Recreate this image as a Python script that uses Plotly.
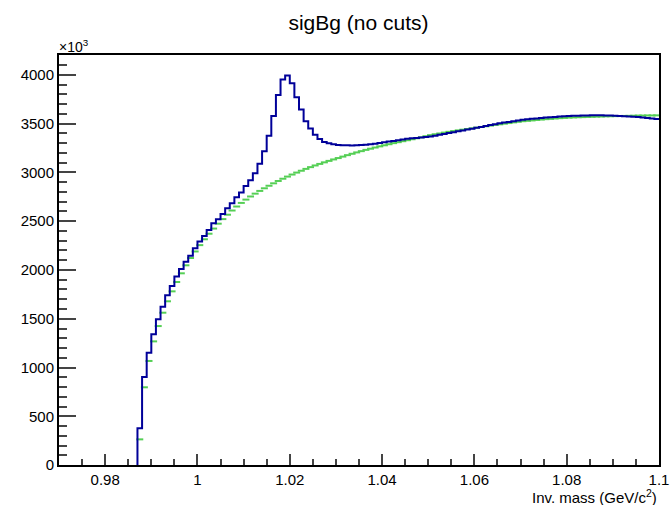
import plotly.graph_objects as go

# Histogram binning (bin low edges, width 0.001 GeV/c^2)
x_min = 0.970
bin_width = 0.001
n_bins = 130

# Total (signal + background), in units of 10^3
sig_bg = [0]*17 + [
    378, 903, 1152, 1340, 1494, 1624, 1740, 1836, 1932, 2010,
    2085, 2147, 2222, 2291, 2349, 2410, 2479, 2520, 2574, 2633,
    2684, 2745, 2795, 2862, 2920, 2992, 3090, 3217, 3376, 3579,
    3795, 3953, 3995, 3915, 3772, 3645, 3526, 3450, 3388, 3344,
    3313, 3299, 3289, 3283, 3280, 3279, 3278, 3279, 3281, 3285,
    3290, 3296, 3303, 3310, 3317, 3324, 3331, 3338, 3345, 3350,
    3355, 3360, 3364, 3368, 3377, 3386, 3395, 3404, 3413, 3422,
    3431, 3440, 3449, 3458, 3467, 3476, 3486, 3495, 3504, 3512,
    3519, 3526, 3533, 3540, 3545, 3550, 3554, 3559, 3563, 3567,
    3570, 3574, 3577, 3580, 3581, 3583, 3584, 3585, 3586, 3586,
    3586, 3585, 3584, 3582, 3580, 3577, 3575, 3572, 3568, 3564,
    3559, 3554, 3548,
]

# Background estimate, in units of 10^3 (None = empty bin)
bg = [None]*17 + [
    263, 797, 1067, 1268, 1425, 1562, 1679, 1781, 1877, 1966,
    2048, 2123, 2190, 2255, 2315, 2372, 2425, 2475, 2522, 2567,
    2610, 2651, 2688, 2722, 2754, 2783, 2811, 2838, 2864, 2889,
    2913, 2936, 2958, 2979, 2999, 3018, 3037, 3055, 3072, 3088,
    3104, 3119, 3134, 3148, 3163, 3178, 3192, 3206, 3219, 3232,
    3244, 3256, 3268, 3279, 3290, 3301, 3311, 3321, 3331, 3341,
    3351, 3361, 3372, 3383, 3392, 3400, 3409, 3417, 3425, 3432,
    3439, 3446, 3453, 3460, 3467, 3474, 3481, 3488, 3494, 3501,
    3507, 3514, 3520, 3526, 3530, 3534, 3539, 3543, 3547, 3550,
    3554, 3557, 3560, 3563, 3565, 3567, 3568, 3570, 3571, 3573,
    3574, 3576, 3577, 3578, 3579, 3580, 3581, 3582, 3584, 3584,
    3585, 3585, 3586,
]

x_ticks = [0.98, 1.0, 1.02, 1.04, 1.06, 1.08, 1.1]
x_tick_labels = ["0.98", "1", "1.02", "1.04", "1.06", "1.08", "1.1"]
y_ticks = [0, 500, 1000, 1500, 2000, 2500, 3000, 3500, 4000]

edges = [round(x_min + i * bin_width, 4) for i in range(n_bins + 1)]
centers = [round(x_min + (i + 0.5) * bin_width, 5) for i in range(n_bins)]

# Step outline: skip the leading empty bins (they lie on the frame),
# start at the first filled bin's low edge from zero.
first = next(i for i, v in enumerate(sig_bg) if v > 0)
step_x = [edges[first]] + edges[first:]
step_y = [0] + sig_bg[first:] + [sig_bg[-1]]

FONT = "Liberation Sans, Arial, Helvetica, sans-serif"

fig = go.Figure()

fig.add_trace(go.Scatter(
    x=centers, y=bg, mode="markers",
    marker=dict(symbol="line-ew", size=5, color="#55cf55",
                line=dict(color="#55cf55", width=2)),
    hoverinfo="x+y", showlegend=False,
))

fig.add_trace(go.Scatter(
    x=step_x, y=step_y, mode="lines",
    line=dict(shape="hv", color="#000099", width=2),
    showlegend=False,
))

fig.update_layout(
    width=670, height=505,
    margin=dict(l=59, r=11, t=55, b=40, autoexpand=False),
    paper_bgcolor="white", plot_bgcolor="white",
    font=dict(family=FONT, size=15, color="black"),
    title=dict(text="sigBg (no cuts)", x=0.535, xanchor="center",
               y=0.955, yanchor="middle", font=dict(size=21)),
    xaxis=dict(
        range=[0.97, 1.1], tickmode="array", tickvals=x_ticks,
        ticktext=x_tick_labels, ticks="inside", ticklen=11, tickwidth=1.5,
        minor=dict(ticks="inside", ticklen=6, tickwidth=1.5, dtick=0.005,
                   tick0=0.97, showgrid=False),
        showline=True, linewidth=2, linecolor="black", mirror=True,
        showgrid=False, zeroline=False, automargin=False,
        layer="above traces",
    ),
    yaxis=dict(
        range=[0, 4205], tickmode="array", tickvals=y_ticks,
        ticks="inside", ticklen=17, tickwidth=1.5,
        minor=dict(ticks="inside", ticklen=8, tickwidth=1.5, dtick=100,
                   tick0=0, showgrid=False),
        showline=True, linewidth=2, linecolor="black", mirror=True,
        showgrid=False, zeroline=False, automargin=False,
        layer="above traces",
    ),
    annotations=[
        dict(text="Inv. mass (GeV/c<sup>2</sup>)", xref="paper", yref="paper",
             x=1.0, y=-0.076, xanchor="right", yanchor="middle",
             showarrow=False, font=dict(size=15)),
        dict(text="×10<sup>3</sup>", xref="paper", yref="paper",
             x=-0.003, y=1.022, xanchor="left", yanchor="middle",
             showarrow=False, font=dict(size=14)),
    ],
)

fig.write_html("out.html")
